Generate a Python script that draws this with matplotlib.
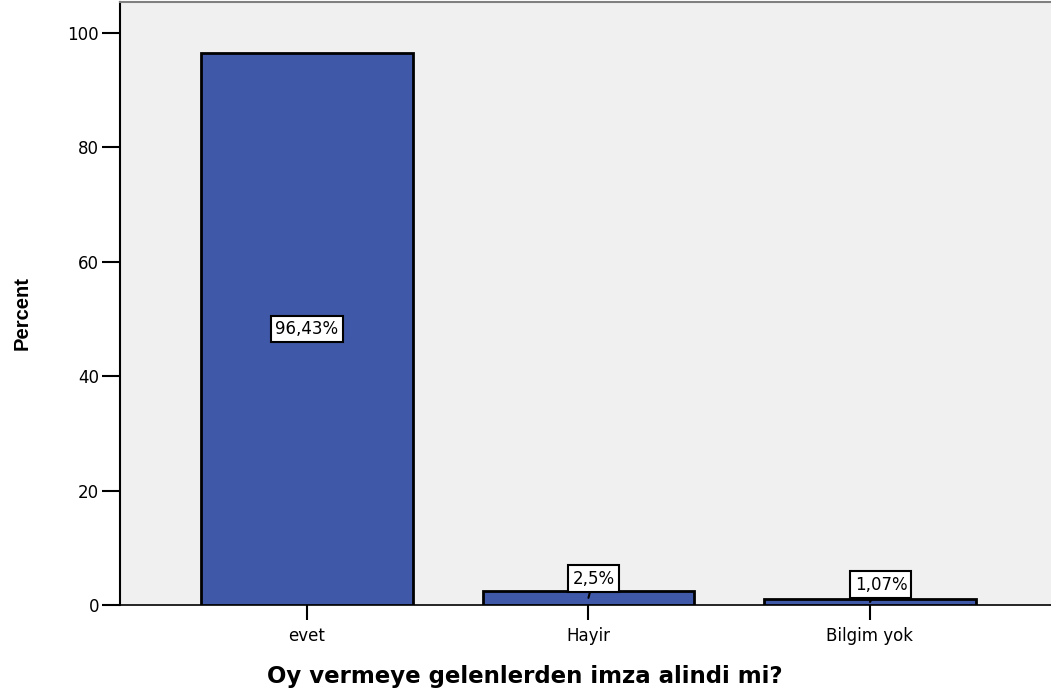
import matplotlib
matplotlib.use("Agg")
import matplotlib.pyplot as plt

categories = ["evet", "Hayir", "Bilgim yok"]
percents = [96.43, 2.5, 1.07]
labels = ["96,43%", "2,5%", "1,07%"]

plt.rcParams['font.family'] = ['DejaVu Sans']

fig = plt.figure(figsize=(10.51, 6.93), dpi=100)
ax = fig.add_axes([120/1051, (693-605)/693, (1051-120)/1051, (605-2)/693])
ax.set_facecolor('#f0f0f0')

x = list(range(len(categories)))
ax.bar(x, percents, width=0.75, color='#3f58a8', edgecolor='black', linewidth=2, zorder=3)

ax.set_xlim(-0.664, 2.643)
ax.set_ylim(0, 105.4)
ax.set_yticks([0, 20, 40, 60, 80, 100])
ax.set_xticks(x)
ax.set_xticklabels(categories)
ax.tick_params(axis='y', length=13, width=1.5, labelsize=12, pad=2)
ax.tick_params(axis='x', length=11, width=1.5, labelsize=12, pad=5)

ax.spines['right'].set_visible(False)
ax.spines['top'].set_color('#808080')
ax.spines['top'].set_linewidth(1.5)
ax.spines['left'].set_linewidth(1.5)
ax.spines['bottom'].set_linewidth(1.2)

bbox = dict(boxstyle='square,pad=0.25', facecolor='white', edgecolor='black', linewidth=1.5)
ax.text(x[0], percents[0] / 2, labels[0], ha='center', va='center', fontsize=12, bbox=bbox, zorder=5)
label_pos = {1: (0.018, 4.63), 2: (0.039, 3.58)}
for i, (dx, ty) in label_pos.items():
    ax.annotate(labels[i], xy=(x[i], percents[i] / 2), xytext=(x[i] + dx, ty),
                ha='center', va='center', fontsize=12, bbox=bbox, zorder=5,
                arrowprops=dict(arrowstyle='-', color='black', lw=1.5, shrinkA=0, shrinkB=0))

ax.set_ylabel('Percent', fontweight='bold', va='center', family=['Liberation Sans', 'DejaVu Sans'], fontsize=14.5)
ax.yaxis.set_label_coords(-0.105, 0.484)
ax.set_xlabel('Oy vermeye gelenlerden imza alindi mi?', fontsize=16.5, fontweight='bold', va='center')
ax.xaxis.set_label_coords(0.435, -0.118)

fig.savefig('out.png', dpi=100)
